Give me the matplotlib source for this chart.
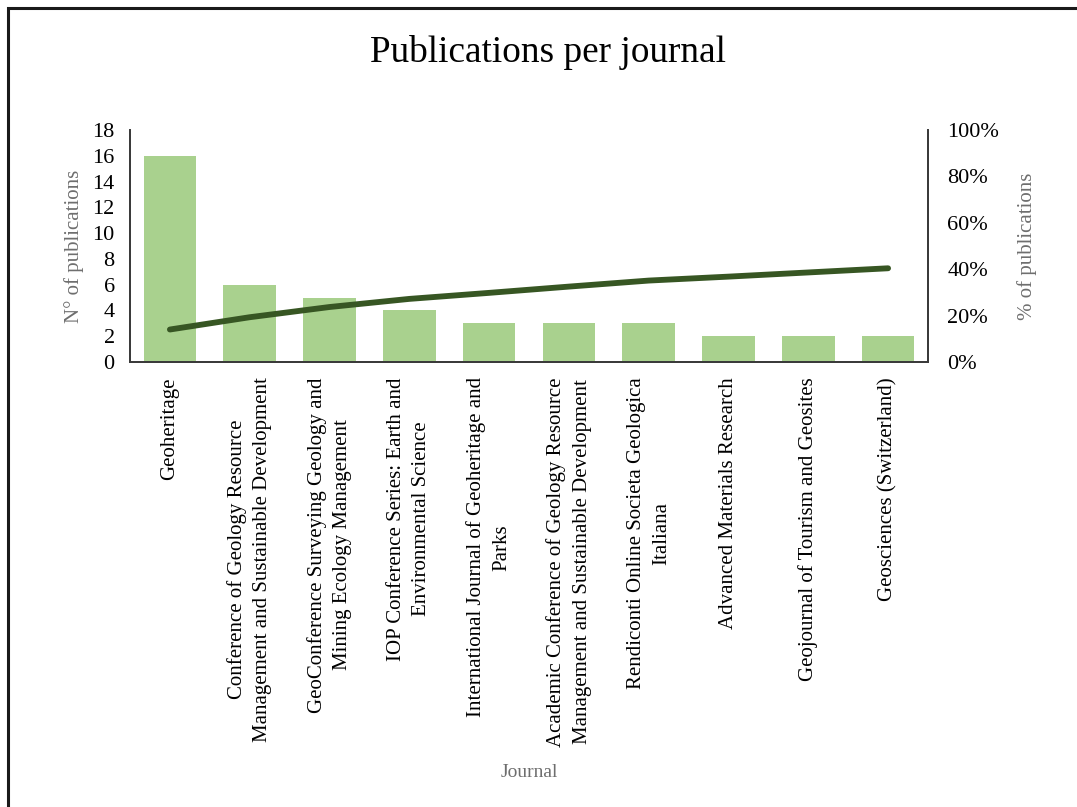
import matplotlib
matplotlib.use("Agg")
import matplotlib.pyplot as plt
from matplotlib.patches import Rectangle
import numpy as np

journals = [
    "Geoheritage",
    "Conference of Geology Resource\nManagement and Sustainable Development",
    "GeoConference Surveying Geology and\nMining Ecology Management",
    "IOP Conference Series: Earth and\nEnvironmental Science",
    "International Journal of Geoheritage and\nParks",
    "Academic Conference of Geology Resource\nManagement and Sustainable Development",
    "Rendiconti Online Societa Geologica\nItaliana",
    "Advanced Materials Research",
    "Geojournal of Tourism and Geosites",
    "Geosciences (Switzerland)",
]
publications = [16, 6, 5, 4, 3, 3, 3, 2, 2, 2]
cumulative_pct = [14.0, 19.3, 23.7, 27.2, 29.8, 32.5, 35.1, 36.8, 38.6, 40.4]
left_ticks = [0, 2, 4, 6, 8, 10, 12, 14, 16, 18]
right_ticks = [0, 20, 40, 60, 80, 100]

plt.rcParams['font.family'] = ['Liberation Serif', 'DejaVu Serif']

W, H = 1077, 807
fig = plt.figure(figsize=(W / 100, H / 100), dpi=100)

# outer frame
fig.patches.append(Rectangle((8 / W, -0.1), 1.2, 1 - 8 / H + 0.1, transform=fig.transFigure,
                             fill=False, edgecolor='#1a1a1a', linewidth=2.2, zorder=0))

ax = fig.add_axes([130 / W, 1 - 362 / H, 798 / W, 232 / H])
x = np.arange(len(journals))
ax.bar(x, publications, width=0.66, color='#A9D18E', zorder=2)
ax.set_xlim(-0.5, len(journals) - 0.5)
ax.set_ylim(0, 18)
ax.set_yticks(left_ticks)
ax.set_yticklabels([str(t) for t in left_ticks], fontsize=16, color='black')
ax.set_xticks(x)
ax.set_xticklabels(journals, rotation=90, fontsize=15, ha='center', va='top',
                   multialignment='center', linespacing=1.45)
ax.tick_params(axis='x', length=0, pad=11)
ax.tick_params(axis='y', length=0, pad=11)
for s in ['top']:
    ax.spines[s].set_visible(False)
for s in ['left', 'bottom', 'right']:
    ax.spines[s].set_color('#3a3a3a')
    ax.spines[s].set_linewidth(1.3)
ax.set_ylabel('N° of publications', fontsize=15, color='#6e6e6e', labelpad=6)
ax.set_xlabel('Journal', fontsize=14, color='#6e6e6e')
ax.xaxis.set_label_coords(0.5, 1 - (764 - 130) / 232, transform=ax.transAxes)

ax2 = ax.twinx()
ax2.plot(x, np.array(cumulative_pct) / 100, color='#375623', linewidth=4.2,
         solid_capstyle='round', zorder=3)
ax2.set_ylim(0, 1)
ax2.set_yticks(np.array(right_ticks) / 100)
ax2.set_yticklabels([f"{t}%" for t in right_ticks], fontsize=16)
ax2.tick_params(axis='y', length=0, pad=14)
ax2.spines['top'].set_visible(False)
for s in ['left', 'bottom', 'right']:
    ax2.spines[s].set_color('#3a3a3a')
    ax2.spines[s].set_linewidth(1.3)
ax2.set_ylabel('% of publications', fontsize=15, color='#6e6e6e', labelpad=13)

fig.text(548 / W, 1 - 52 / H, 'Publications per journal', fontsize=26.8,
         ha='center', va='center')

fig.savefig('out.png', dpi=100)
